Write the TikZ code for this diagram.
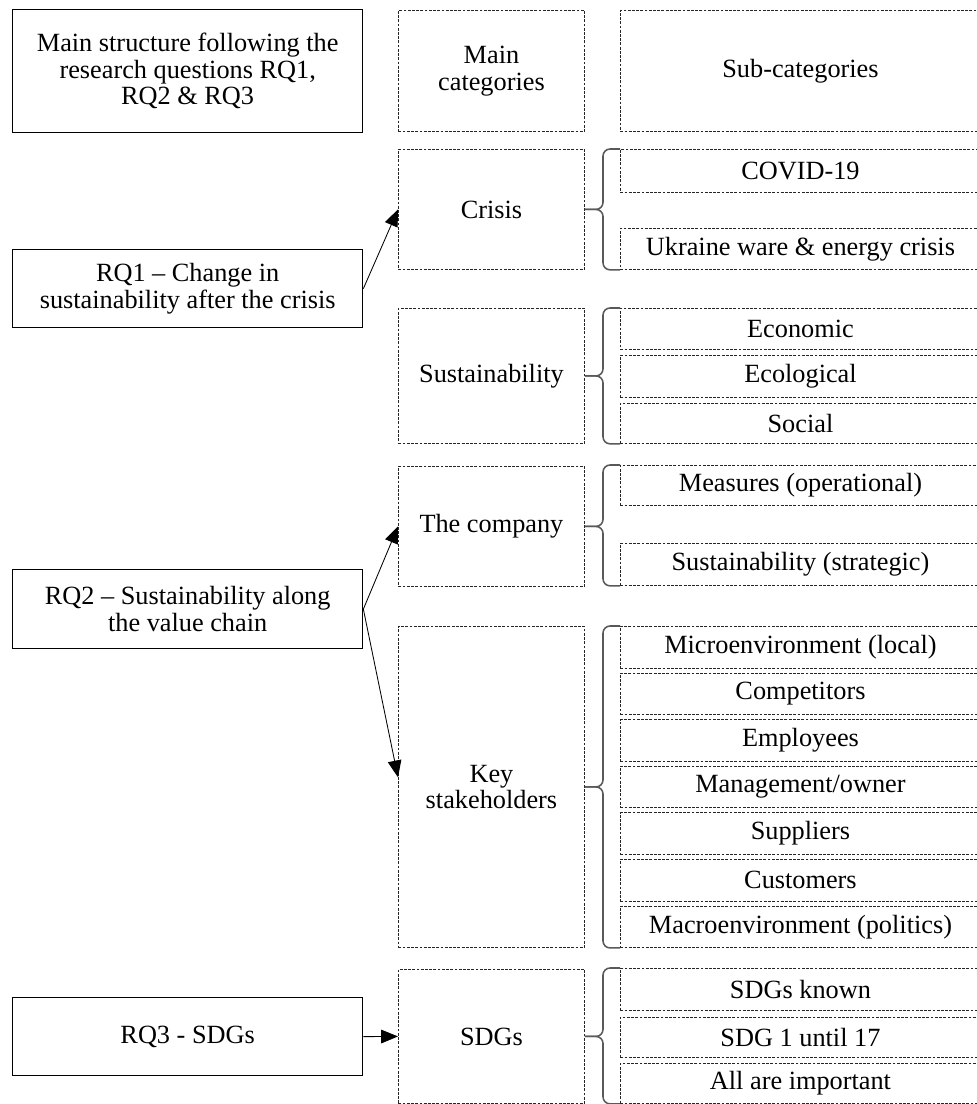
\documentclass[tikz,border=0pt]{standalone}
\usepackage{fontspec}
\setmainfont{Liberation Serif}
\usetikzlibrary{arrows.meta,positioning,calc}
\newcommand{\mainsize}{\fontsize{18.7}{19}\selectfont}
\tikzset{
  rqbox/.style={draw=black,line width=0.9pt,anchor=north west,align=center,
    minimum width=8.75cm,inner sep=2pt,font=\mainsize},
  catbox/.style={draw=black!85,line width=0.6pt,dash pattern=on 2pt off 1pt,
    anchor=north west,align=center,minimum width=4.65cm,inner sep=2pt,font=\mainsize},
  subbox/.style={catbox,minimum width=9cm},
  ht/.style={minimum height=#1*0.025cm},
  link/.style={-{Triangle[length=4.2mm,width=3.4mm]},line width=0.6pt},
  curly/.style={draw=black!65,line width=1.1pt,rounded corners=5pt}
}

\begin{document}
\begin{tikzpicture}[x=0.025cm,y=-0.025cm]
  \useasboundingbox (0,0) rectangle (976,1104);
  % header row
  \node[rqbox,ht=123] (head) at (12,9) {Main structure following the\\research questions RQ1,\\RQ2 \& RQ3};
  \node[catbox,ht=121] (headmain) at (398,10) {Main\\categories};
  \node[subbox,ht=121] (headsub) at (620,10) {Sub-categories};

  % RQ1
  \node[rqbox,ht=78] (rq1) at (12,249) {RQ1 – Change in\\sustainability after the crisis};
  \node[catbox,ht=120] (crisis) at (398,149) {Crisis};
  \node[subbox,ht=43] (covid) at (620,149) {COVID-19};
  \node[subbox,ht=41] (ukraine) at (620,228) {Ukraine ware \& energy crisis};
  \node[catbox,ht=135] (sust) at (398,308) {Sustainability};
  \node[subbox,ht=41] (econ) at (620,308) {Economic};
  \node[subbox,ht=42] (ecol) at (620,355) {Ecological};
  \node[subbox,ht=40] (social) at (620,403) {Social};

  % RQ2
  \node[rqbox,ht=79] (rq2) at (12,569) {RQ2 – Sustainability along\\the value chain};
  \node[catbox,ht=120] (company) at (398,466) {The company};
  \node[subbox,ht=40] (measures) at (620,465) {Measures (operational)};
  \node[subbox,ht=42] (strategic) at (620,543) {Sustainability (strategic)};
  \node[catbox,ht=321] (keys) at (398,626) {Key\\stakeholders};
  \foreach \lbl [count=\i] in {Microenvironment (local),Competitors,Employees,
      Management/owner,Suppliers,Customers,Macroenvironment (politics)}
    \node[subbox,ht=41.5] (ks\i) at (620,{626+46.6*(\i-1)}) {\lbl};

  % RQ3
  \node[rqbox,ht=78] (rq3) at (12,997) {RQ3 - SDGs};
  \node[catbox,ht=134] (sdgs) at (398,969) {SDGs};
  \node[subbox,ht=42] (known) at (620,968) {SDGs known};
  \node[subbox,ht=40] (sdgnum) at (620,1017) {SDG 1 until 17};
  \node[subbox,ht=40] (allimp) at (620,1063) {All are important};

  % braces
  \draw[curly] (covid.north west) -- ++(-17,0) |- (crisis.east);
  \draw[curly] (ukraine.south west) -- ++(-17,0) |- (crisis.east);
  \draw[curly] (econ.north west) -- ++(-17,0) |- (sust.east);
  \draw[curly] (social.south west) -- ++(-17,0) |- (sust.east);
  \draw[curly] (measures.north west) -- ++(-17,0) |- (company.east);
  \draw[curly] (strategic.south west) -- ++(-17,0) |- (company.east);
  \draw[curly] (ks1.north west) -- ++(-17,0) |- (keys.east);
  \draw[curly] (ks7.south west) -- ++(-17,0) |- (keys.east);
  \draw[curly] (known.north west) -- ++(-17,0) |- (sdgs.east);
  \draw[curly] (allimp.south west) -- ++(-17,0) |- (sdgs.east);

  % arrows
  \draw[link] (rq1.east) -- (crisis.west);
  \draw[link] (rq2.east) -- (company.west);
  \draw[link] (rq2.east) -- ([yshift=0.24cm]keys.west);
  \draw[link] (rq3.east) -- (sdgs.west);
\end{tikzpicture}
\end{document}
